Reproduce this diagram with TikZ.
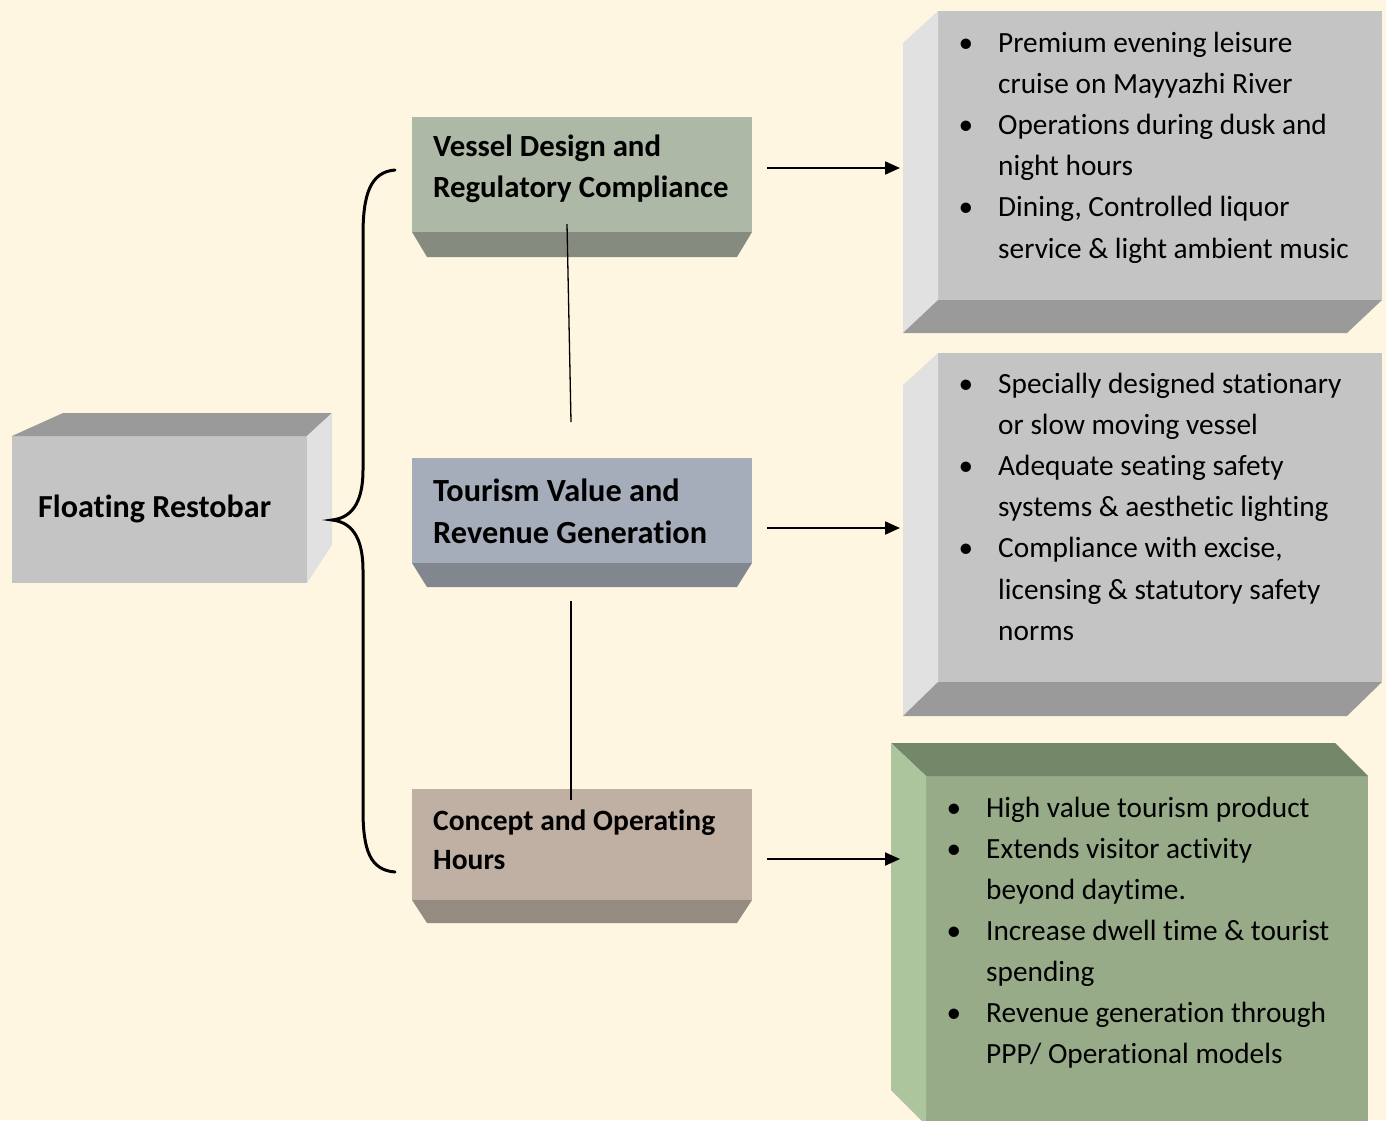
\documentclass[tikz,border=0pt]{standalone}
\usepackage{fontspec}
\setmainfont{Carlito}[Ligatures=NoCommon]
\usetikzlibrary{arrows.meta,calc}

\definecolor{bg}{HTML}{FFF6E1}
\definecolor{grayfront}{HTML}{C4C4C4}
\definecolor{graylight}{HTML}{E1E1E1}
\definecolor{graydark}{HTML}{9A9A9A}
\definecolor{vesfront}{HTML}{ADB9A6}
\definecolor{vesdark}{HTML}{858C7F}
\definecolor{tourfront}{HTML}{A6ADBA}
\definecolor{tourdark}{HTML}{81868F}
\definecolor{confront}{HTML}{C0B0A3}
\definecolor{condark}{HTML}{968B80}
\definecolor{grnfront}{HTML}{98AB89}
\definecolor{grntop}{HTML}{758769}
\definecolor{grnside}{HTML}{ACC59D}

\tikzset{
  face/.style={inner sep=0pt, outer sep=0pt, anchor=north west},
  arr/.style={line width=2pt, -{Triangle[length=15pt,width=13pt]}},
  link/.style={line width=1.3pt},
  bracepath/.style={line width=3pt, line cap=round},
  bodytext/.style={anchor=base west, inner sep=0pt, font=\fontsize{29.3}{35}\selectfont},
  bul/.style={anchor=base, inner sep=0pt, font=\fontsize{29.3}{35}\selectfont},
  labeltext/.style={anchor=base west, inner sep=0pt, font=\bfseries\fontsize{#1}{36}\selectfont},
}

\begin{document}
\begin{tikzpicture}[x=1pt,y=-1pt]
\fill[bg] (0,0) rectangle (1386,1120);
\useasboundingbox (0,0) rectangle (1386,1120);

% ---------- root block ----------
\node[face, fill=grayfront, minimum width=295pt, minimum height=147pt] (root) at (12,436) {};
\fill[graydark] (root.north west) -- (63,413) -- (332,413) -- (root.north east) -- cycle;
\fill[graylight] (root.north east) -- (332,413) -- (332,545) -- (root.south east) -- cycle;
\node[labeltext=32.1] (rootlbl) at (38,517) {Floating Restobar};

% ---------- middle blocks ----------
\node[face, fill=vesfront, minimum width=340pt, minimum height=115pt] (ves) at (412,117) {};
\fill[vesdark] (ves.south west) -- (ves.south east) -- (737,257) -- (427,257) -- cycle;
\node[labeltext=30.8] (ves1) at (433,156) {Vessel Design and};
\node[labeltext=30.8] (ves2) at (433,197) {Regulatory Compliance};

\node[face, fill=tourfront, minimum width=340pt, minimum height=105pt] (tour) at (412,458) {};
\fill[tourdark] (tour.south west) -- (tour.south east) -- (737,587) -- (427,587) -- cycle;
\node[labeltext=32.3] (tour1) at (433,501) {Tourism Value and};
\node[labeltext=32.3] (tour2) at (433,543) {Revenue Generation};

\node[face, fill=confront, minimum width=340pt, minimum height=111pt] (con) at (412,789) {};
\fill[condark] (con.south west) -- (con.south east) -- (737,923) -- (427,923) -- cycle;
\node[labeltext=29.5] (con1) at (433,830) {Concept and Operating};
\node[labeltext=29.5] (con2) at (433,869) {Hours};

% ---------- right blocks ----------
\node[face, minimum width=479pt, minimum height=322pt] (r1) at (903,11) {};
\fill[grayfront] (938,11) rectangle (1382,300);
\fill[graylight] (903,43) -- (938,11) -- (938,300) -- (903,333) -- cycle;
\fill[graydark] (938,300) -- (1382,300) -- (1347,333) -- (903,333) -- cycle;

\node[face, minimum width=479pt, minimum height=331pt] (r2) at (903,353) {};
\fill[grayfront] (938,353) rectangle (1382,682);
\fill[graylight] (903,385) -- (938,353) -- (938,682) -- (903,716) -- cycle;
\fill[graydark] (938,682) -- (1382,682) -- (1347,716) -- (903,716) -- cycle;

\node[face, minimum width=477pt, minimum height=380pt] (r3) at (891,743) {};
\fill[grnfront] (926,776) rectangle (1368,1125);
\fill[grntop] (891,743) -- (1335,743) -- (1368,776) -- (926,776) -- cycle;
\fill[grnside] (891,743) -- (926,776) -- (926,1125) -- (891,1090) -- cycle;

% bullet texts
\foreach \b/\t [count=\i from 0] in {1/Premium evening leisure, 0/cruise on Mayyazhi River,
    1/Operations during dusk and, 0/night hours, 1/{Dining, Controlled liquor},
    0/service \& light ambient music} {
  \node[bodytext] (ra\i) at (998,{52+41.2*\i}) {\t};
  \ifnum\b=1 \node[bul] (rb\i) at (966,{52+41.2*\i}) {•};\fi
}
\foreach \b/\t [count=\i from 0] in {1/Specially designed stationary, 0/or slow moving vessel,
    1/Adequate seating safety, 0/systems \& aesthetic lighting, 1/{Compliance with excise,},
    0/licensing \& statutory safety, 0/norms} {
  \node[bodytext] (sa\i) at (998,{393+41.2*\i}) {\t};
  \ifnum\b=1 \node[bul] (sb\i) at (966,{393+41.2*\i}) {•};\fi
}
\foreach \b/\t [count=\i from 0] in {1/High value tourism product, 1/Extends visitor activity,
    0/beyond daytime., 1/Increase dwell time \& tourist, 0/spending,
    1/Revenue generation through, 0/{PPP/ Operational models}} {
  \node[bodytext] (ta\i) at (986,{817+41*\i}) {\t};
  \ifnum\b=1 \node[bul] (tb\i) at (954,{817+41*\i}) {•};\fi
}

% ---------- connectors ----------
\draw[arr, shorten <=15pt] ([yshift=6.5pt]ves.east) -- ([yshift=6.5pt,xshift=-3pt]ves.east -| r1.west);
\draw[arr, shorten <=15pt] ([yshift=-17.5pt]tour.east) -- ([yshift=-17.5pt,xshift=-3pt]tour.east -| r2.west);
\draw[arr, shorten <=15pt] ([yshift=-14.5pt]con.east) -- ([yshift=-14.5pt,xshift=9pt]con.east -| r3.west);

\coordinate (l1a) at (567,224);
\coordinate (l1b) at (571,422);
\coordinate (l2a) at (571,601);
\coordinate (l2b) at (571,800);
\draw[link] (l1a) -- (l1b);
\draw[link] (l2a) -- (l2b);

% curly brace grouping the three middle blocks
\draw[bracepath] (395,170) .. controls (370,172) and (363,195) .. (363,235)
  -- (363,470) .. controls (363,505) and (350,518) .. (332,520)
  .. controls (350,522) and (363,535) .. (363,570)
  -- (363,810) .. controls (363,850) and (370,870) .. (395,872);
\end{tikzpicture}
\end{document}
